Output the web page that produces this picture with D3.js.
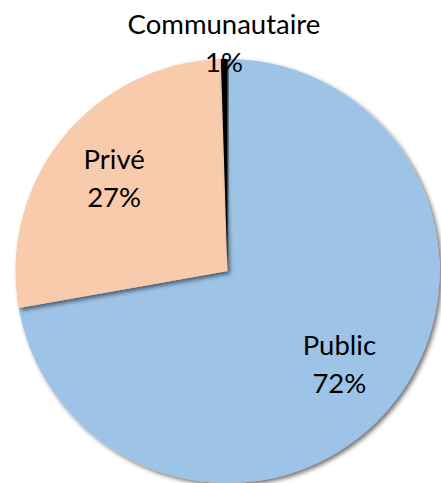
<!DOCTYPE html>
<html><head><meta charset="utf-8">
<script src="https://cdn.jsdelivr.net/npm/d3@7"></script>
<style>html,body{margin:0;padding:0;background:#fff;}svg{display:block;}</style>
</head><body>
<svg id="c" width="441" height="483"></svg>
<script>
const categories = ["Public", "Privé", "Communautaire"];
const values = [72.2, 27.3, 0.5];
const colors = ["#9DC3E6", "#F8CBAD", "#000000"];

const W = 441, H = 483;
const cx = 227.5, cy = 271, R = 212;
const svg = d3.select("#c");
const defs = svg.append("defs");
const f = defs.append("filter").attr("id","sh").attr("x","-20%").attr("y","-20%").attr("width","140%").attr("height","140%");
f.append("feDropShadow").attr("dx",2.5).attr("dy",2.5).attr("stdDeviation",2).attr("flood-color","#000").attr("flood-opacity",0.55);

const data = categories.map((c,i)=>({cat:c, v:values[i], col:colors[i]}));
const pie = d3.pie().sort(null).value(d=>d.v);
const arcs = pie(data);
const arc = d3.arc().innerRadius(0).outerRadius(R);
const g = svg.append("g").attr("transform",`translate(${cx},${cy})`);
g.selectAll("path.s").data(arcs).enter().append("path")
  .attr("class","s").attr("d",arc).attr("fill",d=>d.data.col)
  .attr("filter","url(#sh)");

const total = d3.sum(values);
const inArc = d3.arc().innerRadius(146).outerRadius(146);
const outArc = d3.arc().innerRadius(227).outerRadius(227);
const fs = 27.5, lh = 38;
arcs.forEach(d=>{
  const small = (d.endAngle - d.startAngle) < 0.2;
  const [x,y] = (small ? outArc : inArc).centroid(d);
  const pct = Math.round(d.data.v/total*100) + "%";
  const t = g.append("text").attr("text-anchor","middle")
    .attr("font-family","Lato, 'Open Sans', sans-serif").attr("font-size",fs).attr("fill","#000");
  t.append("tspan").attr("x",x).attr("y",y - lh/2 + 9).text(d.data.cat);
  t.append("tspan").attr("x",x).attr("y",y + lh/2 + 9).text(pct);
});
</script>
</body></html>
